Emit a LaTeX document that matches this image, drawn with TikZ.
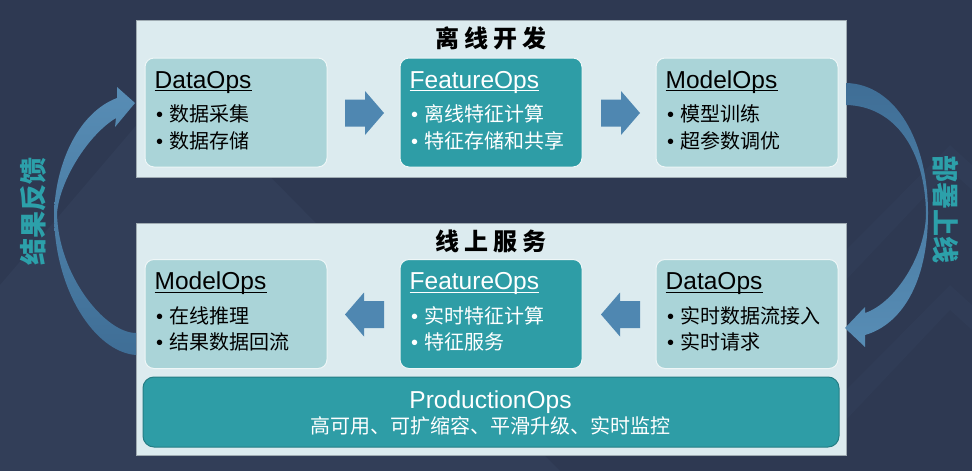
\documentclass[tikz,border=0pt]{standalone}
\usepackage{fontspec}
\setmainfont{Liberation Sans}
\newfontfamily\cjk{Noto Sans CJK SC}

\definecolor{bgnavy}{HTML}{2E3952}
\definecolor{bgshade}{HTML}{323E58}
\definecolor{panelbg}{HTML}{DCEBEF}
\definecolor{panelline}{HTML}{9FABB2}
\definecolor{boxlight}{HTML}{AAD4D8}
\definecolor{boxteal}{HTML}{2E9DA6}
\definecolor{arrowblue}{HTML}{4F87B1}
\definecolor{arrowdark}{HTML}{3F6E96}
\definecolor{labelteal}{HTML}{2CA0AA}

\tikzset{
  panel/.style={fill=panelbg, draw=panelline, line width=0.8pt, inner sep=0pt},
  opsbox/.style={draw=white!80!boxlight, line width=1pt, rounded corners=9pt,
    minimum width=182pt, minimum height=109pt, inner sep=0pt},
  head/.style={inner sep=0pt, font=\fontsize{24.5}{26}\selectfont},
  item/.style={inner sep=0pt, font=\fontsize{20}{22}\selectfont},
  stagetitle/.style={inner sep=0pt, font=\cjk\bfseries\fontsize{24}{26}\selectfont},
  sidelabel/.style={inner sep=0pt, text=labelteal, font=\cjk\bfseries\fontsize{27}{28}\selectfont},
  blockarrow/.pic={
    \fill[arrowblue] (-19.5,-13.5) -- (0.5,-13.5) -- (0.5,-22) -- (19.5,0)
      -- (0.5,22) -- (0.5,13.5) -- (-19.5,13.5) -- cycle;
  }
}

\begin{document}
\begin{tikzpicture}[x=1pt,y=-1pt]

% Background
\fill[bgnavy] (0,0) rectangle (972,471);
\useasboundingbox (0,0) rectangle (972,471);
\fill[bgshade] (0,285) -- (175,80) -- (560,471) -- (0,471) -- cycle;
\fill[bgshade!60!bgnavy] (846,250) -- (950,145) -- (972,165) -- (972,190) -- (950,170) -- (846,280) -- cycle;
\fill[bgshade!60!bgnavy] (846,390) -- (950,285) -- (972,305) -- (972,330) -- (950,310) -- (846,420) -- cycle;

% Panels
\node[panel, minimum width=710pt, minimum height=157pt] (offline) at (491,98.5) {};
\node[panel, minimum width=710pt, minimum height=232pt] (online) at (491,339) {};
\node[stagetitle, anchor=base] (offline-t) at (491,47) {离\hspace{5pt}线\hspace{5pt}开\hspace{5pt}发};
\node[stagetitle, anchor=base] (online-t) at (491,250) {线\hspace{5pt}上\hspace{5pt}服\hspace{5pt}务};

% Ops boxes
\foreach \n/\cx/\cy/\fc/\tc/\ttl/\ia/\ib in {
  offdata/236/112.5/boxlight/black/DataOps/数据采集/数据存储,
  offfeat/491/112.5/boxteal/white/FeatureOps/离线特征计算/特征存储和共享,
  offmodel/747/112.5/boxlight/black/ModelOps/模型训练/超参数调优,
  onmodel/236/314/boxlight/black/ModelOps/在线推理/结果数据回流,
  onfeat/491/314/boxteal/white/FeatureOps/实时特征计算/特征服务,
  ondata/747/314/boxlight/black/DataOps/实时数据流接入/实时请求}{
  \node[opsbox, fill=\fc] (\n) at (\cx,\cy) {};
  \node[head, text=\tc, anchor=base west] (\n-t) at ([shift={(10,30.5)}]\n.north west) {\ttl};
  \draw[\tc, line width=1pt] ([yshift=-2.5pt]\n-t.base west) -- ([yshift=-2.5pt]\n-t.base east);
  \node[item, text=\tc, anchor=base west] (\n-a) at ([shift={(11.5,64)}]\n.north west) {•\hspace{6pt}\cjk \ia};
  \node[item, text=\tc, anchor=base west] (\n-b) at ([shift={(11.5,90.5)}]\n.north west) {•\hspace{6pt}\cjk \ib};
}

% Block arrows between the boxes
\pic at (364.5,113) {blockarrow};
\pic at (620.5,113) {blockarrow};
\pic[rotate=180] at (364.5,314.5) {blockarrow};
\pic[rotate=180] at (620.5,314.5) {blockarrow};

% ProductionOps
\node[opsbox, fill=boxteal, draw=boxteal!80!black, minimum width=696pt,
  minimum height=70pt, rounded corners=11pt] (prod) at (491,412) {};
\node[head, text=white, anchor=base] (prod-t) at (490.5,408) {ProductionOps};
\node[item, text=white, anchor=base] (prod-s) at (490.5,433) {\cjk 高可用、可扩缩容、平滑升级、实时监控};

% Curved arrows
% feedback: online -> offline
\shade[top color=arrowblue!95!white, bottom color=arrowdark]
  (136,355) .. controls (95,352) and (54,290) .. (54,213)
  .. controls (56,160) and (80,112) .. (117,98)
  -- (117,87) -- (135,103) -- (115,127) -- (116,118)
  .. controls (88,135) and (60,180) .. (57,213)
  .. controls (58,275) and (105,333) .. (136,333) -- cycle;
% deploy: offline -> online
\shade[top color=arrowdark, bottom color=arrowblue!95!white]
  (846,83) .. controls (895,84) and (928,140) .. (928,213)
  .. controls (928,285) and (900,325) .. (865,335)
  -- (865,347) -- (845,328) -- (865,307) -- (865,313)
  .. controls (895,303) and (926,255) .. (926,213)
  .. controls (925,150) and (895,106) .. (846,105) -- cycle;

% Side labels
\node[sidelabel, rotate=90] (feedback) at (33,211) {结果反馈};
\node[sidelabel, rotate=-90] (deploy) at (946,209) {部署上线};

\end{tikzpicture}
\end{document}
